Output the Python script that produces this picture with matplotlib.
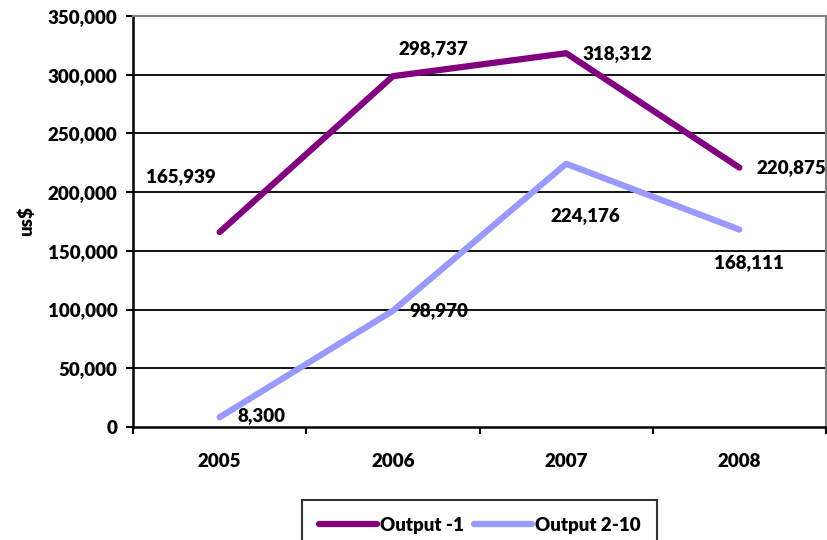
import matplotlib.pyplot as plt
from matplotlib.ticker import FuncFormatter

plt.rcParams['font.family'] = ['Lato', 'DejaVu Sans']
plt.rcParams['font.weight'] = 'heavy'
plt.rcParams['axes.labelweight'] = 'heavy'
FS = 13.5

years = ['2005', '2006', '2007', '2008']
output_1 = [165939, 298737, 318312, 220875]
output_2_10 = [8300, 98970, 224176, 168111]

# label offsets in points (dx, dy, ha) for each point
offsets_1 = [(-28, 40, 'center'), (29, 20, 'center'), (12, 0, 'left'), (12, 0, 'left')]
offsets_2 = [(13, 1, 'left'), (12, 0, 'left'), (14, -37, 'center'), (7, -24, 'center')]

fig = plt.figure(figsize=(8.27, 5.40), dpi=100)
ax = fig.add_axes([133/827, 1-427/540, (826-133)/827, (427-16)/540])

x = range(len(years))
ax.plot(x, output_1, color='#800080', lw=4.5, solid_capstyle='round', label='Output -1', zorder=3)
ax.plot(x, output_2_10, color='#9999FF', lw=4.5, solid_capstyle='round', label='Output 2-10', zorder=3)

for xs, ys, offs in [(x, output_1, offsets_1), (x, output_2_10, offsets_2)]:
    for xi, yi, (dx, dy, ha) in zip(xs, ys, offs):
        ax.annotate(f'{yi:,}', (xi, yi), xytext=(dx, dy), textcoords='offset points',
                    ha=ha, va='center', fontsize=FS, zorder=4)

ax.set_xlim(-0.5, 3.5)
ax.set_ylim(0, 350000)
ax.set_yticks(range(0, 350001, 50000))
ax.yaxis.set_major_formatter(FuncFormatter(lambda v, p: f'{int(v):,}'))
ax.set_xticks(list(x))
ax.set_xticklabels(years)
ax.set_xticks([-0.5, 0.5, 1.5, 2.5, 3.5], minor=True)
ax.tick_params(axis='x', which='major', length=0, pad=19, labelsize=FS)
ax.tick_params(axis='x', which='minor', length=5, width=1.5, direction='out')
ax.tick_params(axis='y', length=5, width=1.5, pad=6, labelsize=FS)

for v in range(50000, 350000, 50000):
    ax.axhline(v, color='black', lw=1.3, zorder=1)

for side in ['left', 'bottom']:
    ax.spines[side].set_linewidth(1.8)
for side in ['top', 'right']:
    ax.spines[side].set_color('#808080')
    ax.spines[side].set_linewidth(1.5)

ax.set_ylabel('us$', fontsize=FS, fontweight='heavy', labelpad=9)

leg = fig.legend(loc='upper center', bbox_to_anchor=(479.5/827, 1-500/540), ncol=2,
                 frameon=True, fancybox=False, fontsize=FS, borderpad=0.9,
                 handlelength=3.1, handletextpad=0.15, columnspacing=0.55,
                 borderaxespad=0)
leg.get_frame().set_edgecolor('black')
leg.get_frame().set_linewidth(1.5)

fig.savefig('out.png', dpi=100)
